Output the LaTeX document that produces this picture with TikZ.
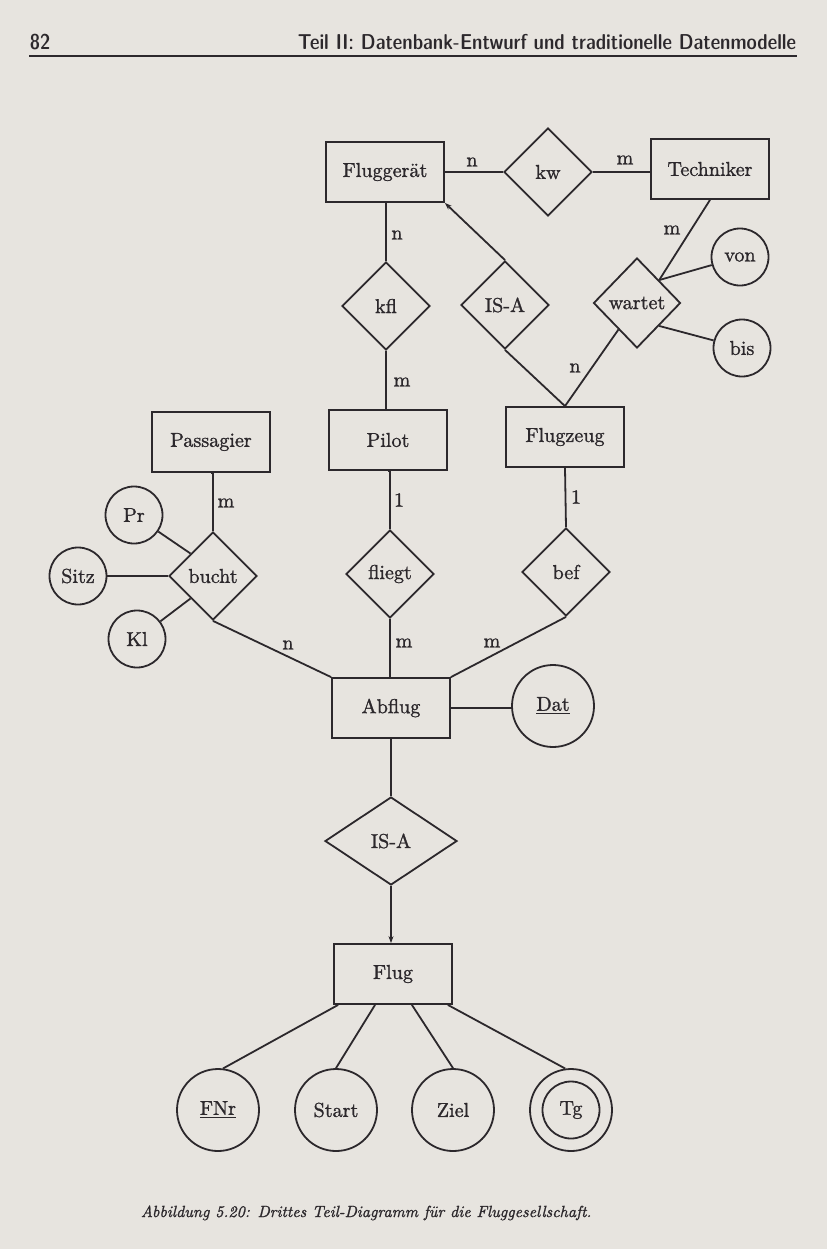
\documentclass[tikz,border=0pt]{standalone}
\usetikzlibrary{shapes.geometric,arrows.meta,calc}
\definecolor{paper}{RGB}{231,228,223}
\definecolor{ink}{RGB}{44,40,44}
% diagram lettering: the 10pt design, enlarged, with a light outline stroke
\newcommand{\inkon}{\special{pdf:literal direct 2 Tr 0.12 w}}
\newcommand{\inkoff}{\special{pdf:literal direct 0 Tr}}
\newcommand{\dtext}[1]{\scalebox{2.02}{\inkon#1\inkoff}}

\begin{document}
\begin{tikzpicture}[x=1bp,y=-1bp,line width=1.8bp,color=ink,
  every node/.style={font=\fontsize{10}{12}\selectfont,text=ink},
  entity/.style={draw,rectangle,minimum width=118bp,minimum height=60bp,inner sep=0pt},
  rel/.style={draw,diamond,minimum width=88bp,minimum height=88bp,inner sep=0pt},
  attr/.style={draw,circle,minimum size=57bp,inner sep=0pt},
  bigattr/.style={draw,circle,minimum size=82bp,inner sep=0pt},
  card/.style={inner sep=0pt},
  isarrow/.style={-{Stealth[length=7bp,width=5bp]}},
  headfont/.style={font=\fontsize{21.6}{26}\fontseries{sbc}\sffamily}
]
% page
\fill[paper] (0,0) rectangle (827,1249);
\useasboundingbox (0,0) rectangle (827,1249);

% running head
\node[headfont,anchor=base west,inner sep=0pt] (pagenum) at (29,49) {82};
\node[headfont,anchor=base east,inner sep=0pt] (headtext) at (797,49)
  {Teil II: Datenbank-Entwurf und traditionelle Datenmodelle};
\draw[line width=1.8bp] (pagenum.base west |- 0,56) -- (headtext.base east |- 0,56);

% entities
\node[entity] (fg)   at (385,172) {\dtext{Fluggerät}};
\node[entity] (tech) at (710,169) {\dtext{Techniker}};
\node[entity] (pass) at (211,442) {\dtext{Passagier}};
\node[entity] (pil)  at (388,440) {\dtext{Pilot}};
\node[entity] (fz)   at (565,437) {\dtext{Flugzeug}};
\node[entity] (abf)  at (391,708) {\dtext{Abflug}};
\node[entity] (flug) at (393,974) {\dtext{Flug}};

% relationships
\node[rel] (kw)   at (548,172) {\dtext{kw}};
\node[rel] (kfl)  at (386,306) {\dtext{kfl}};
\node[rel] (isa1) at (505,305) {\dtext{IS-A}};
\node[rel,minimum width=87bp,minimum height=90bp] (wart) at (637,303) {\dtext{wartet}};
\node[rel] (bucht) at (213,576) {\dtext{bucht}};
\node[rel] (fliegt) at (390,574) {\dtext{fliegt}};
\node[rel] (bef)  at (566,572) {\dtext{bef}};
\node[rel,minimum width=132bp] (isa2) at (391,841) {\dtext{IS-A}};

% attributes
\node[attr] (von)  at (740,257) {\dtext{von}};
\node[attr] (bis)  at (742,348) {\dtext{bis}};
\node[attr] (pr)   at (134,515) {\dtext{Pr}};
\node[attr] (sitz) at (78,576)  {\dtext{Sitz}};
\node[attr] (kl)   at (137,639) {\dtext{Kl}};
\node[bigattr] (dat)   at (553,706)  {\dtext{\underline{Dat}}};
\node[bigattr] (fnr)   at (218,1110) {\dtext{\underline{FNr}}};
\node[bigattr] (start) at (336,1110) {\dtext{Start}};
\node[bigattr] (ziel)  at (453,1110) {\dtext{Ziel}};
\node[bigattr] (tg)    at (571,1110) {};
\node[attr]    (tgin)  at (571,1110) {\dtext{Tg}};

% edge points on the diamonds
\coordinate (wj) at ($(wart.north)!0.5!(wart.east)$);
\coordinate (wl) at ($(wart.east)!0.5!(wart.south)$);
\coordinate (bul) at ($(bucht.west)!0.5!(bucht.north)$);
\coordinate (bll) at ($(bucht.west)!0.5!(bucht.south)$);

% connectors
\draw (fg.east) -- (kw.west);
\draw (kw.east) -- (kw.east -| tech.west);
\draw (kfl.north |- fg.south) -- (kfl.north);
\draw (kfl.south) -- (kfl.south |- pil.north);
\draw[isarrow] (isa1.north) -- (fg.south east);
\draw (fz.north) -- (isa1.south);
\draw (fz.north) -- (wart);
\draw (tech.south) -- (wj);
\draw (wj) -- (von);
\draw (wl) -- (bis);

\draw (pass.south) -- (pass.south -| bucht.north) -- (bucht.north);
\draw (pr) -- (bul);
\draw (sitz) -- (bucht.west);
\draw (kl) -- (bll);
\draw (bucht.south) -- (abf.north west);
\draw (pil.south) -- (pil.south -| fliegt.north) -- (fliegt.north);
\draw (fliegt.south) -- (fliegt.south |- abf.north);
\draw (fz.south) -- (bef.north);
\draw (bef.south) -- (abf.north east);
\draw (abf.east) -- (abf.east -| dat.west);

\draw (abf.south) -- (abf.south |- isa2.north);
\draw[isarrow] (isa2.south) -- (isa2.south |- flug.north);

\draw ($(flug.south west)!0.042!(flug.south east)$) -- (fnr.83);
\draw ($(flug.south west)!0.35!(flug.south east)$) -- (start.north);
\draw ($(flug.south west)!0.658!(flug.south east)$) -- (ziel.north);
\draw ($(flug.south west)!0.958!(flug.south east)$) -- (tg.98);

% cardinalities
\node[card] (c1)  at (472,162) {\dtext{n}};
\node[card] (c2)  at (625,160) {\dtext{m}};
\node[card] (c3)  at (397,235) {\dtext{n}};
\node[card] (c4)  at (402,382) {\dtext{m}};
\node[card] (c5)  at (672,230) {\dtext{m}};
\node[card] (c6)  at (575,368) {\dtext{n}};
\node[card] (c7)  at (226,503) {\dtext{m}};
\node[card] (c8)  at (399,500) {\dtext{1}};
\node[card] (c9)  at (576,497) {\dtext{1}};
\node[card] (c10) at (288,645) {\dtext{n}};
\node[card] (c11) at (404,643) {\dtext{m}};
\node[card] (c12) at (492,643) {\dtext{m}};

% caption
\node[anchor=base west,inner sep=0pt,font=\fontsize{10}{12}\selectfont\itshape] (cap) at (140,1217)
  {\scalebox{1.62}{\inkon Abbildung 5.20: Drittes Teil-Diagramm für die Fluggesellschaft.\inkoff}};
\end{tikzpicture}
\end{document}
